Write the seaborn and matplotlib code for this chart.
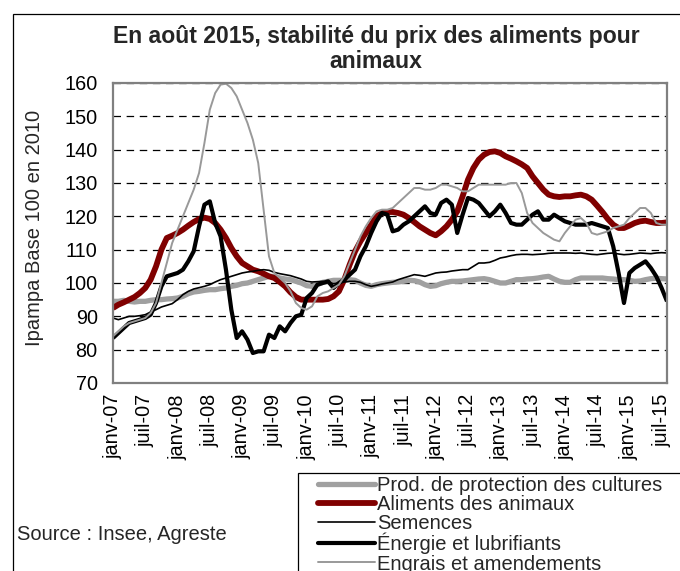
import numpy as np
import pandas as pd
import matplotlib
matplotlib.use("Agg")
import matplotlib.pyplot as plt
from matplotlib.lines import Line2D
from matplotlib.patches import Rectangle
import seaborn as sns

sns.set_style("white")
plt.rcParams['font.family'] = ['Liberation Sans', 'DejaVu Sans']

# ---------------- data (monthly, janv-2007 .. août-2015) ----------------
prod_protection = [
    94.5, 94.5, 94.8, 94.5, 94.3, 94.5, 94.5, 94.8, 95.0, 95.0, 95.2, 95.3,
    95.5, 96.0, 96.8, 97.3, 97.5, 97.8, 98.0, 98.0, 98.3, 98.5, 99.0, 99.3,
    99.8, 100.0, 100.5, 101.0, 101.5, 102.0, 102.0, 101.5, 101.2, 101.0, 100.5, 100.0,
    99.2, 99.0, 99.5, 100.2, 100.5, 100.8, 100.8, 100.8, 101.0, 100.8, 100.0, 99.3,
    99.0, 99.5, 99.8, 100.0, 100.2, 100.3, 100.5, 100.8, 100.7, 100.3, 99.5, 99.0,
    99.2, 99.8, 100.2, 100.5, 100.5, 100.6, 100.8, 101.0, 101.2, 101.3, 101.0, 100.5,
    100.0, 100.0, 100.5, 101.0, 101.0, 101.2, 101.3, 101.5, 101.8, 102.0, 101.2, 100.5,
    100.2, 100.2, 101.0, 101.5, 101.5, 101.5, 101.5, 101.5, 101.3, 101.2, 101.0, 101.0,
    100.8, 100.5, 100.6, 101.0, 101.3, 101.4, 101.3, 101.2,
]
aliments_animaux = [
    92.5, 93.5, 94.2, 95.0, 95.8, 97.0, 98.5, 101.0, 105.0, 110.0, 113.5, 114.2,
    115.0, 116.0, 117.2, 118.3, 119.2, 119.6, 119.2, 118.0, 116.0, 113.5, 110.5, 108.0,
    106.0, 105.0, 104.0, 103.5, 102.8, 102.0, 101.5, 100.3, 99.0, 97.2, 95.8, 95.0,
    95.0, 95.0, 95.0, 95.0, 95.2, 96.0, 97.5, 101.0, 105.5, 109.5, 112.5, 115.0,
    117.5, 120.0, 121.0, 121.3, 121.3, 121.0, 120.5, 119.5, 118.3, 117.0, 116.0, 115.0,
    114.3, 115.5, 117.0, 119.0, 121.5, 126.0, 131.0, 134.5, 137.0, 138.5, 139.3, 139.5,
    139.0, 138.0, 137.3, 136.5, 135.6, 134.5, 132.0, 130.0, 128.0, 126.5, 126.0, 125.8,
    126.0, 126.0, 126.3, 126.5, 126.0, 125.0, 123.2, 121.3, 119.2, 117.5, 116.5, 116.5,
    117.2, 118.0, 118.5, 118.7, 118.3, 118.0, 118.0, 118.2,
]
semences = [
    89.5, 89.0, 89.5, 90.0, 90.0, 90.2, 90.5, 91.3, 92.0, 92.8, 93.3, 93.8,
    95.0, 96.5, 97.5, 98.2, 98.6, 99.0, 99.5, 100.3, 101.0, 101.5, 102.0, 102.5,
    103.0, 103.3, 103.5, 103.8, 104.0, 103.8, 103.2, 102.8, 102.5, 102.2, 101.7, 101.2,
    100.5, 100.3, 100.4, 100.5, 100.2, 99.8, 100.0, 100.3, 100.5, 100.5, 100.2, 99.5,
    99.0, 99.3, 99.7, 100.0, 100.3, 101.0, 101.5, 102.0, 102.5, 102.3, 102.0, 102.5,
    103.0, 103.2, 103.3, 103.6, 103.8, 104.0, 104.0, 105.0, 106.0, 106.0, 106.2, 106.8,
    107.5, 107.8, 108.2, 108.5, 108.6, 108.6, 108.5, 108.6, 108.7, 108.9, 109.0, 109.0,
    109.0, 109.0, 108.9, 109.0, 108.8, 108.6, 108.5, 108.7, 108.9, 109.0, 108.7, 108.5,
    108.6, 108.8, 109.0, 108.9, 108.8, 109.0, 109.1, 109.0,
]
energie_lubrifiants = [
    83.5, 85.0, 86.5, 88.0, 88.5, 89.0, 89.5, 90.5, 94.0, 99.0, 102.0, 102.5,
    103.0, 104.0, 106.5, 109.5, 117.0, 123.5, 124.5, 118.0, 114.0, 104.0, 92.0, 83.5,
    85.5, 83.0, 79.0, 79.5, 79.5, 84.5, 83.5, 87.0, 85.5, 88.0, 90.0, 90.5,
    95.5, 97.0, 99.5, 100.0, 100.5, 98.5, 100.0, 101.0, 102.5, 104.0, 108.0, 111.0,
    115.0, 118.5, 121.0, 120.5, 115.5, 116.0, 117.5, 118.5, 120.0, 121.5, 123.0, 121.0,
    120.5, 124.0, 125.0, 123.5, 115.0, 120.5, 125.5, 125.0, 124.0, 122.0, 120.0, 121.5,
    123.5, 121.0, 118.0, 117.5, 117.5, 119.0, 120.5, 121.5, 119.0, 119.0, 120.5, 119.5,
    118.5, 118.0, 117.5, 117.5, 117.5, 118.0, 117.5, 117.0, 116.5, 111.0, 103.0, 94.0,
    103.0, 104.5, 105.5, 106.5, 104.5, 102.0, 98.5, 94.5,
]
engrais_amendements = [
    84.0, 85.5, 87.0, 88.0, 88.5, 89.0, 89.5, 91.0, 94.0, 100.0, 106.0, 112.0,
    116.0, 120.0, 124.0, 128.0, 133.0, 142.0, 152.0, 157.0, 159.5, 159.8, 158.5, 156.0,
    152.0, 148.0, 143.0, 136.0, 122.0, 108.0, 103.0, 101.5, 100.0, 97.5, 94.0, 92.5,
    92.0, 93.0, 96.0, 97.0, 97.5, 98.5, 99.5, 102.0, 106.0, 110.0, 114.0, 117.0,
    119.5, 121.5, 122.0, 122.0, 122.5, 124.0, 125.5, 127.0, 128.5, 128.5, 128.0, 128.0,
    128.5, 129.5, 129.5, 129.0, 128.5, 127.5, 127.5, 128.5, 129.5, 129.5, 129.5, 129.5,
    129.5, 129.5, 130.0, 130.0, 127.0, 121.0, 118.0, 116.5, 115.0, 114.0, 113.0, 112.5,
    115.0, 117.0, 119.0, 119.5, 118.0, 115.0, 114.5, 115.0, 115.5, 116.5, 117.0, 117.5,
    119.5, 121.0, 122.5, 122.5, 121.0, 118.0, 117.5, 117.5,
]

series_names = [
    "Prod. de protection des cultures",
    "Aliments des animaux",
    "Semences",
    "Énergie et lubrifiants",
    "Engrais et amendements",
]
tick_labels = [
    "janv-07", "juil-07", "janv-08", "juil-08", "janv-09", "juil-09",
    "janv-10", "juil-10", "janv-11", "juil-11", "janv-12", "juil-12",
    "janv-13", "juil-13", "janv-14", "juil-14", "janv-15", "juil-15",
]

title_l1 = "En août 2015, stabilité du prix des aliments pour"
title_l2 = "animaux"
y_label = "Ipampa Base 100 en 2010"
source = "Source : Insee, Agreste"

# ---------------- styles ----------------
colors = ["#a0a0a0", "#800000", "#000000", "#000000", "#999999"]
widths = [3.8, 4.2, 1.2, 3.0, 1.4]

values = [prod_protection, aliments_animaux, semences,
          energie_lubrifiants, engrais_amendements]
n = len(prod_protection)
frames = []
for name, vals in zip(series_names, values):
    frames.append(pd.DataFrame({"mois": np.arange(len(vals)), "indice": vals, "serie": name}))
df = pd.concat(frames, ignore_index=True)

W, H = 680, 571
fig = plt.figure(figsize=(W / 100, H / 100), dpi=100)
ax = fig.add_axes([113 / W, 1 - 383 / H, (667 - 113) / W, 300 / H])

for name, c, lw in zip(series_names, colors, widths):
    sub = df[df["serie"] == name]
    sns.lineplot(data=sub, x="mois", y="indice", ax=ax, color=c, linewidth=lw,
                 legend=False, solid_joinstyle="round", solid_capstyle="butt")

ax.set_xlim(0, n - 1)
ax.set_ylim(70, 160)
ax.set_yticks(np.arange(70, 161, 10))
ax.set_xticks(np.arange(0, 6 * len(tick_labels), 6))
ax.set_xticklabels(tick_labels, rotation=90, ha="center", va="top")
ax.set_xlabel("")
ax.set_ylabel("")

ax.yaxis.grid(True, color="black", linewidth=0.9, linestyle=(0, (6, 4.5)))
ax.xaxis.grid(False)
for s in ax.spines.values():
    s.set_color("#808080")
    s.set_linewidth(1.6)
ax.tick_params(axis="both", direction="out", length=5, width=1.2, color="#808080",
               labelsize=14.3, labelcolor="black")
ax.tick_params(axis="y", pad=6)
ax.tick_params(axis="x", pad=3)

# titles and texts
fig.text(376 / W, 1 - 36 / H, title_l1, ha="center", va="center",
         fontsize=16.6, fontweight="bold")
fig.text(376 / W, 1 - 62 / H, title_l2, ha="center", va="center",
         fontsize=16.6, fontweight="bold")
fig.text(35 / W, 1 - 228 / H, y_label, rotation=90, ha="center", va="center",
         fontsize=14.5)
fig.text(17 / W, 1 - 534 / H, source, ha="left", va="center", fontsize=14.5)

# outer chart border
fig.add_artist(Rectangle((12.7 / W, -0.2), 1.5, 1.2 - 14 / H, transform=fig.transFigure,
                         fill=False, edgecolor="black", linewidth=0.9, clip_on=False))
# legend box
fig.add_artist(Rectangle((298 / W, -0.2), 1.0, 0.2 + 1 - 473 / H, transform=fig.transFigure,
                         fill=False, edgecolor="black", linewidth=0.9, clip_on=False))

handles = [Line2D([0], [0], color=c, linewidth=lw, solid_capstyle="round")
           for c, lw in zip(colors, widths)]
fig.legend(handles, series_names, loc="upper left",
           bbox_to_anchor=(318 / W, 1 - 476 / H), frameon=False,
           fontsize=14.5, borderpad=0, borderaxespad=0, handlelength=2.85,
           handletextpad=0.1, labelspacing=0.0)

fig.savefig("out.png", dpi=100)
